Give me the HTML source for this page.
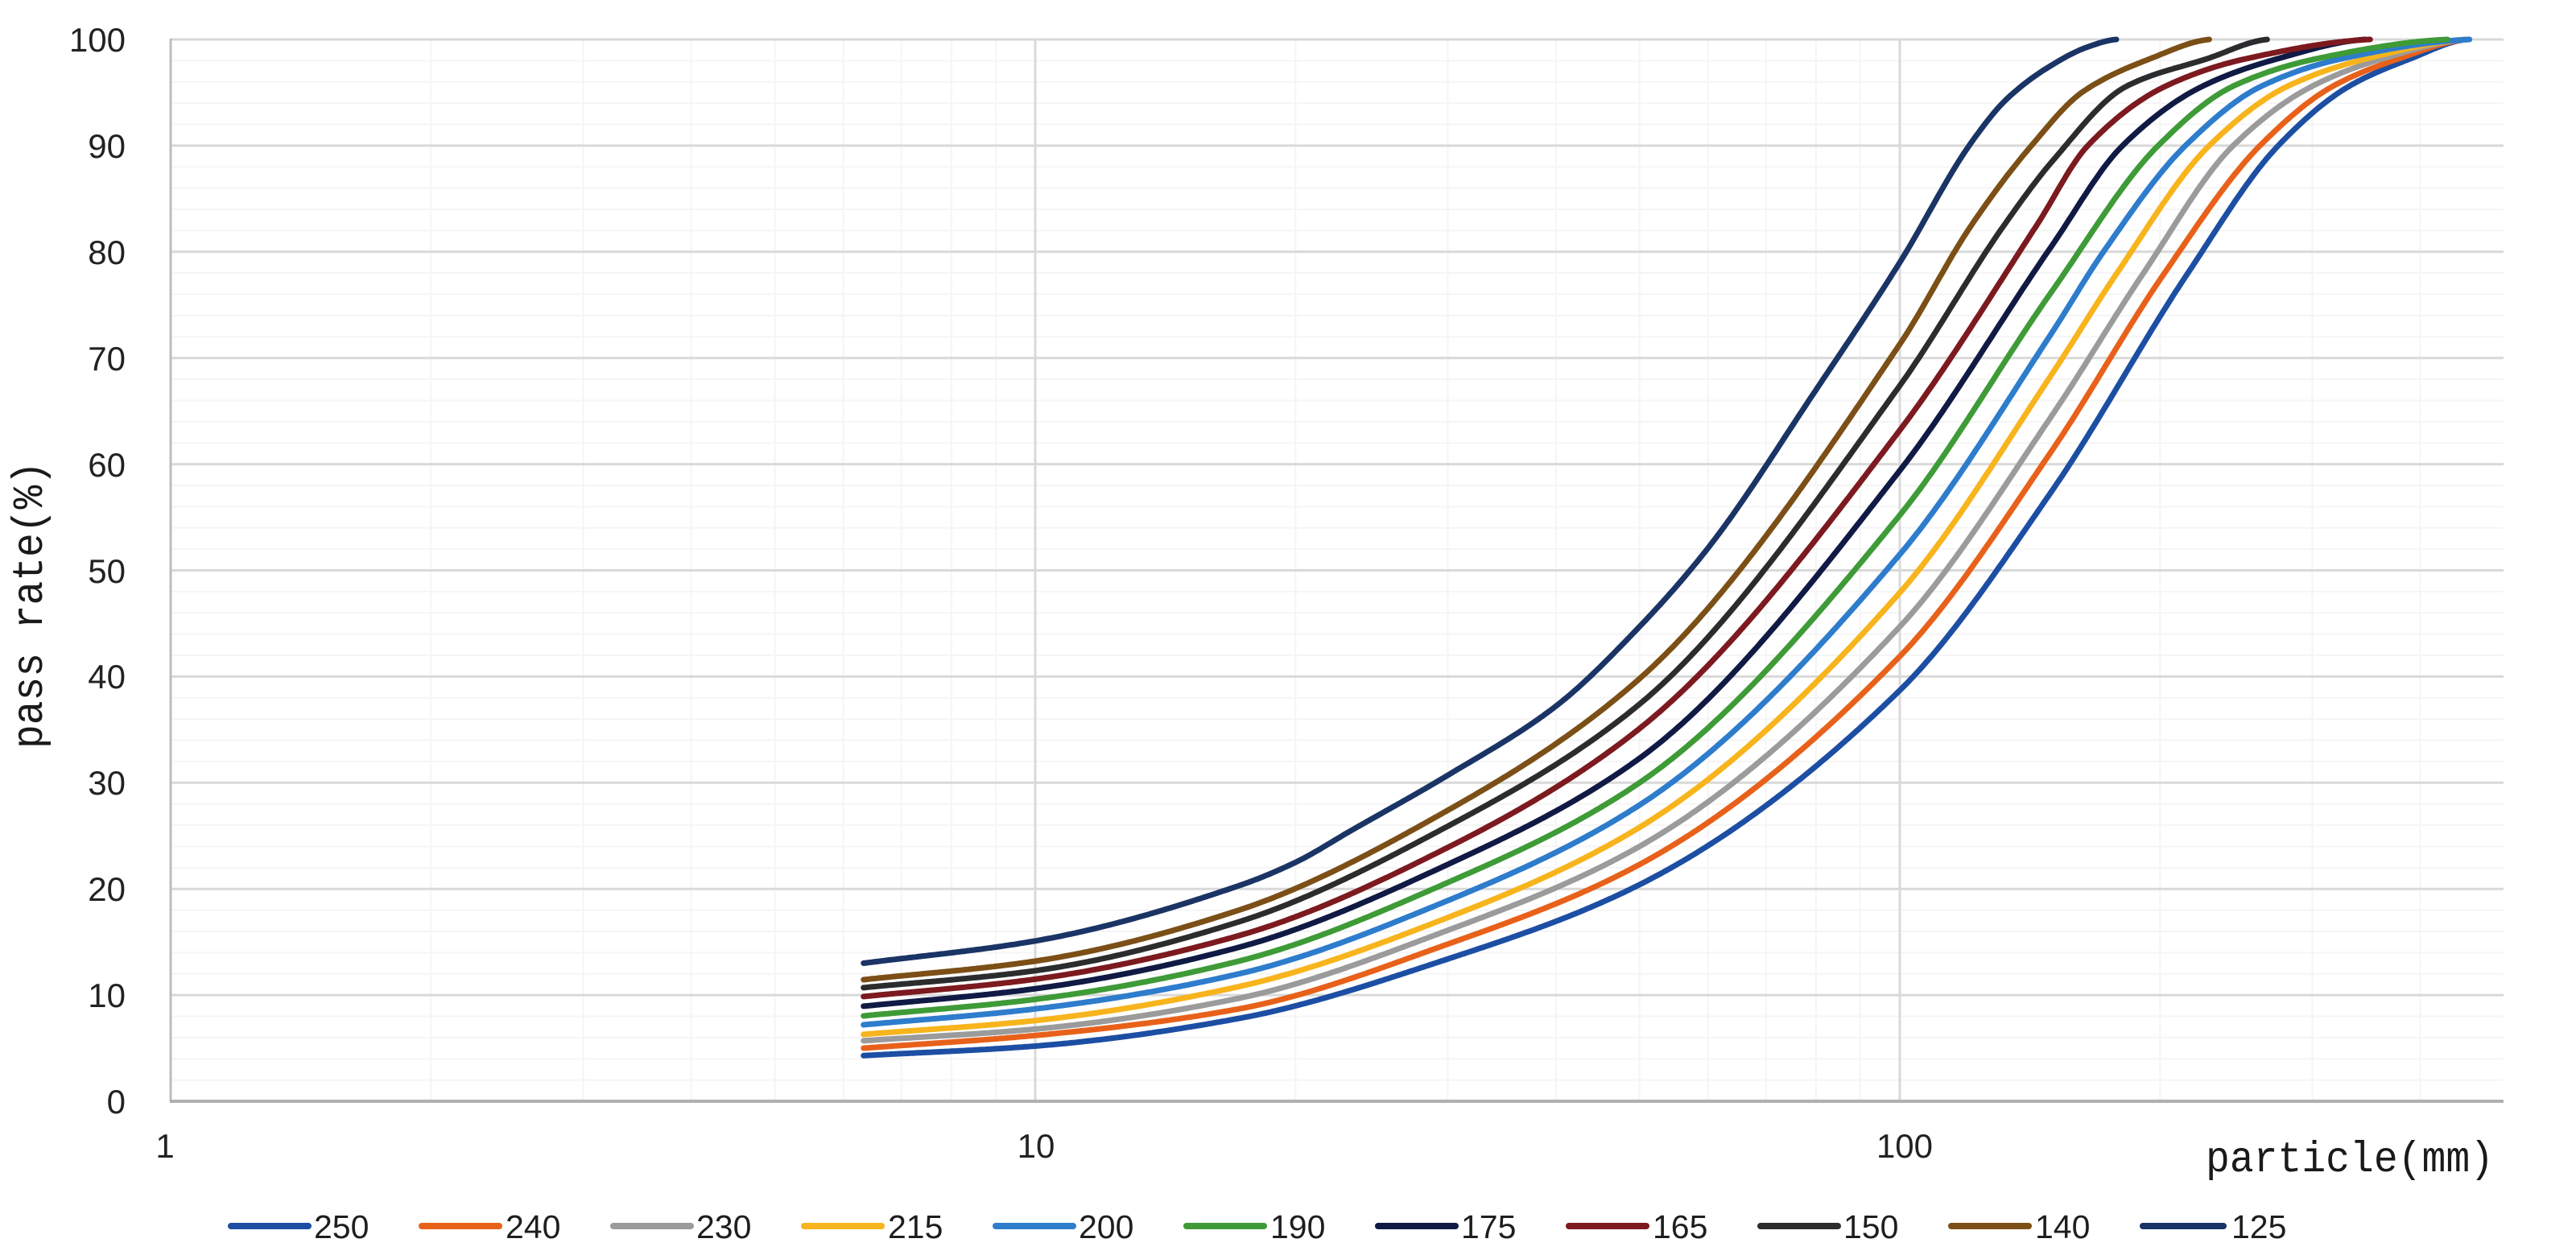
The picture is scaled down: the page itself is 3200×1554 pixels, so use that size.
<!DOCTYPE html>
<html>
<head>
<meta charset="utf-8">
<style>
  html,body{margin:0;padding:0;background:#ffffff;}
  svg{display:block;}
  .tick{font-family:"Liberation Sans",sans-serif;font-size:42px;fill:#222222;}
  .leg{font-family:"Liberation Sans",sans-serif;font-size:41px;fill:#1e1e1e;}
  .ttl{font-family:"Liberation Mono",monospace;font-size:54px;fill:#1a1a1a;}
</style>
</head>
<body>
<svg id="chart" width="3200" height="1554" viewBox="0 0 3200 1554" xmlns="http://www.w3.org/2000/svg">
  <rect x="0" y="0" width="3200" height="1554" fill="#ffffff"/>
  <g id="minor"></g>
  <g id="major"></g>
  <g id="axes">
    <line x1="212" y1="48" x2="212" y2="1368" stroke="#bdbdbd" stroke-width="3"/>
    <line x1="211" y1="1368" x2="3110" y2="1368" stroke="#b0b0b0" stroke-width="4"/>
  </g>
  <g id="ylabels">
    <text class="tick" x="156" y="64" text-anchor="end">100</text>
    <text class="tick" x="156" y="196" text-anchor="end">90</text>
    <text class="tick" x="156" y="328" text-anchor="end">80</text>
    <text class="tick" x="156" y="460" text-anchor="end">70</text>
    <text class="tick" x="156" y="592" text-anchor="end">60</text>
    <text class="tick" x="156" y="724" text-anchor="end">50</text>
    <text class="tick" x="156" y="855" text-anchor="end">40</text>
    <text class="tick" x="156" y="987" text-anchor="end">30</text>
    <text class="tick" x="156" y="1119" text-anchor="end">20</text>
    <text class="tick" x="156" y="1251" text-anchor="end">10</text>
    <text class="tick" x="156" y="1383" text-anchor="end">0</text>
  </g>
  <g id="xlabels">
    <text class="tick" x="205" y="1438" text-anchor="middle">1</text>
    <text class="tick" x="1287" y="1438" text-anchor="middle">10</text>
    <text class="tick" x="2366" y="1438" text-anchor="middle">100</text>
  </g>
  <text class="ttl" x="2740" y="1455" textLength="358" lengthAdjust="spacingAndGlyphs">particle(mm)</text>
  <text class="ttl" transform="translate(52,930) rotate(-90)" x="0" y="0" textLength="357" lengthAdjust="spacingAndGlyphs">pass rate(%)</text>
  <g id="series" fill="none" stroke-width="7" stroke-linejoin="round" stroke-linecap="round"></g>
  <g id="legend">
    <line x1="287" y1="1523" x2="383" y2="1523" stroke="#1c4ea3" stroke-width="8" stroke-linecap="round"/>
    <text class="leg" x="390" y="1538">250</text>
    <line x1="524" y1="1523" x2="620" y2="1523" stroke="#e8611a" stroke-width="8" stroke-linecap="round"/>
    <text class="leg" x="628" y="1538">240</text>
    <line x1="762" y1="1523" x2="858" y2="1523" stroke="#9b9b9b" stroke-width="8" stroke-linecap="round"/>
    <text class="leg" x="865" y="1538">230</text>
    <line x1="999" y1="1523" x2="1095" y2="1523" stroke="#f7b41c" stroke-width="8" stroke-linecap="round"/>
    <text class="leg" x="1103" y="1538">215</text>
    <line x1="1237" y1="1523" x2="1333" y2="1523" stroke="#2e7ccc" stroke-width="8" stroke-linecap="round"/>
    <text class="leg" x="1340" y="1538">200</text>
    <line x1="1474" y1="1523" x2="1570" y2="1523" stroke="#3e9b37" stroke-width="8" stroke-linecap="round"/>
    <text class="leg" x="1578" y="1538">190</text>
    <line x1="1712" y1="1523" x2="1808" y2="1523" stroke="#101a44" stroke-width="8" stroke-linecap="round"/>
    <text class="leg" x="1815" y="1538">175</text>
    <line x1="1949" y1="1523" x2="2045" y2="1523" stroke="#7c1a1f" stroke-width="8" stroke-linecap="round"/>
    <text class="leg" x="2053" y="1538">165</text>
    <line x1="2187" y1="1523" x2="2283" y2="1523" stroke="#2a2c2e" stroke-width="8" stroke-linecap="round"/>
    <text class="leg" x="2290" y="1538">150</text>
    <line x1="2424" y1="1523" x2="2520" y2="1523" stroke="#7b4f16" stroke-width="8" stroke-linecap="round"/>
    <text class="leg" x="2528" y="1538">140</text>
    <line x1="2662" y1="1523" x2="2762" y2="1523" stroke="#1a3465" stroke-width="8" stroke-linecap="round"/>
    <text class="leg" x="2772" y="1538">125</text>
  </g>
</svg>
<script>
(function(){
  var NS="http://www.w3.org/2000/svg";
  var X0=212, DEC=1074, Y0=1368, PY=13.19, XR=3110, YT=49;
  function px(d){return X0+DEC*Math.log10(d);}
  function py(p){return Y0-PY*p;}
  function ln(g,x1,y1,x2,y2,c,w){
    var e=document.createElementNS(NS,"line");
    e.setAttribute("x1",x1);e.setAttribute("y1",y1);e.setAttribute("x2",x2);e.setAttribute("y2",y2);
    e.setAttribute("stroke",c);e.setAttribute("stroke-width",w);g.appendChild(e);
  }
  var minor=document.getElementById("minor"), major=document.getElementById("major");
  for(var v=2;v<100;v+=2){ if(v%10===0) continue; var y=py(v); ln(minor,X0,y,XR,y,"#f5f5f5",2); }
  var decs=[1,10,100];
  for(var i=0;i<decs.length;i++){
    for(var k=2;k<=9;k++){
      var d=decs[i]*k; if(d>=500) continue;
      var x=px(d); ln(minor,x,YT,x,Y0,"#f5f5f5",2);
    }
  }
  for(var v2=10;v2<=100;v2+=10){ var y2=py(v2); ln(major,X0,y2,XR,y2,"#d9d9d9",3); }
  ln(major,px(10),YT-1,px(10),Y0,"#d9d9d9",3);
  ln(major,px(100),YT-1,px(100),Y0,"#d9d9d9",3);

  function monotone(xs,ys){
    var n=xs.length, dx=[], sl=[], m=[];
    for(var i=0;i<n-1;i++){dx[i]=xs[i+1]-xs[i]; sl[i]=(ys[i+1]-ys[i])/dx[i];}
    m[0]=sl[0]; m[n-1]=sl[n-2]*0.3;
    for(var i=1;i<n-1;i++){
      if(sl[i-1]*sl[i]<=0) m[i]=0;
      else { var w1=2*dx[i]+dx[i-1], w2=dx[i]+2*dx[i-1]; m[i]=(w1+w2)/(w1/sl[i-1]+w2/sl[i]); }
    }
    return function(x){
      var i=0; while(i<n-2 && x>xs[i+1]) i++;
      var h=dx[i], t=(x-xs[i])/h, t2=t*t, t3=t2*t;
      var h00=2*t3-3*t2+1, h10=t3-2*t2+t, h01=-2*t3+3*t2, h11=t3-t2;
      return h00*ys[i]+h10*h*m[i]+h01*ys[i+1]+h11*h*m[i+1];
    };
  }
  var S=6.33;
  var data=[
    ["#1c4ea3",[[S,4.3],[10,5.2],[17.2,7.8],[30,13.4],[50,20.4],[100,38.7],[150,57.5],[215,77.9],[274,90],[331,95.6],[390,98.2],[452,100]]],
    ["#e8611a",[[S,5.0],[10,6.2],[17.2,8.7],[30,14.8],[50,22.3],[100,41.9],[150,61.3],[202,77.9],[261,90],[317,95.6],[378,98.2],[452,100]]],
    ["#9b9b9b",[[S,5.7],[10,6.8],[17.2,9.7],[30,16.1],[50,24.0],[100,44.7],[150,64.6],[191,77.9],[243,90],[300,95.6],[362,98.2],[452,100]]],
    ["#f7b41c",[[S,6.3],[10,7.6],[17.2,10.8],[30,17.3],[50,25.8],[100,47.9],[150,68.5],[178,77.9],[228,90],[281,95.6],[347,98.2],[452,100]]],
    ["#2e7ccc",[[S,7.2],[10,8.7],[17.2,12.0],[30,18.9],[50,27.9],[100,51.5],[150,72.4],[172,80],[214,90],[262,95.6],[325,98.2],[456,100]]],
    ["#3e9b37",[[S,8.04],[10,9.6],[17.2,13.2],[30,20.6],[50,30.0],[100,55.2],[150,76.3],[199,90],[243,95.6],[304,98.2],[430,100]]],
    ["#101a44",[[S,8.95],[10,10.6],[17.2,14.5],[30,22.3],[50,32.3],[100,59.4],[150,80.6],[181,90],[224,95.6],[274,98.2],[345,100]]],
    ["#7c1a1f",[[S,9.86],[10,11.5],[17.2,15.6],[30,23.9],[50,35.1],[100,63.2],[144,82.5],[165,90],[203,95.6],[252,98.2],[350,100]]],
    ["#2a2c2e",[[S,10.7],[10,12.3],[17.2,16.9],[30,25.9],[50,37.4],[100,67.4],[132,82.5],[150,88.5],[183,95.6],[227,98.2],[266,100]]],
    ["#7b4f16",[[S,11.45],[10,13.2],[17.2,18.0],[30,27.4],[50,39.8],[100,71.3],[121,82.5],[142,90],[163,95.1],[195,98.2],[228,100]]],
    ["#1a3465",[[S,13.0],[10,15.1],[17.2,20.3],[20,22.5],[23.2,25.5],[30,30.7],[40,37.2],[50,44.7],[60,52.1],[80,67],[100,79.0],[121,90.3],[133,94.4],[150,97.6],[165,99.3],[178,100]]]
  ];
  var g=document.getElementById("series");
  for(var s=0;s<data.length;s++){
    var pts=data[s][1], xs=[], ys=[];
    for(var j=0;j<pts.length;j++){xs.push(Math.log10(pts[j][0])); ys.push(pts[j][1]);}
    var f=monotone(xs,ys), a=xs[0], b=xs[xs.length-1], step=0.003, dstr="";
    for(var x=a;;x+=step){
      if(x>b) x=b;
      var p=Math.min(100,f(x));
      var X=X0+DEC*x, Y=py(p);
      dstr+=(dstr?"L":"M")+X.toFixed(1)+" "+Y.toFixed(1);
      if(x>=b) break;
    }
    var path=document.createElementNS(NS,"path");
    path.setAttribute("d",dstr); path.setAttribute("stroke",data[s][0]);
    g.appendChild(path);
  }
})();
</script>
</body>
</html>
